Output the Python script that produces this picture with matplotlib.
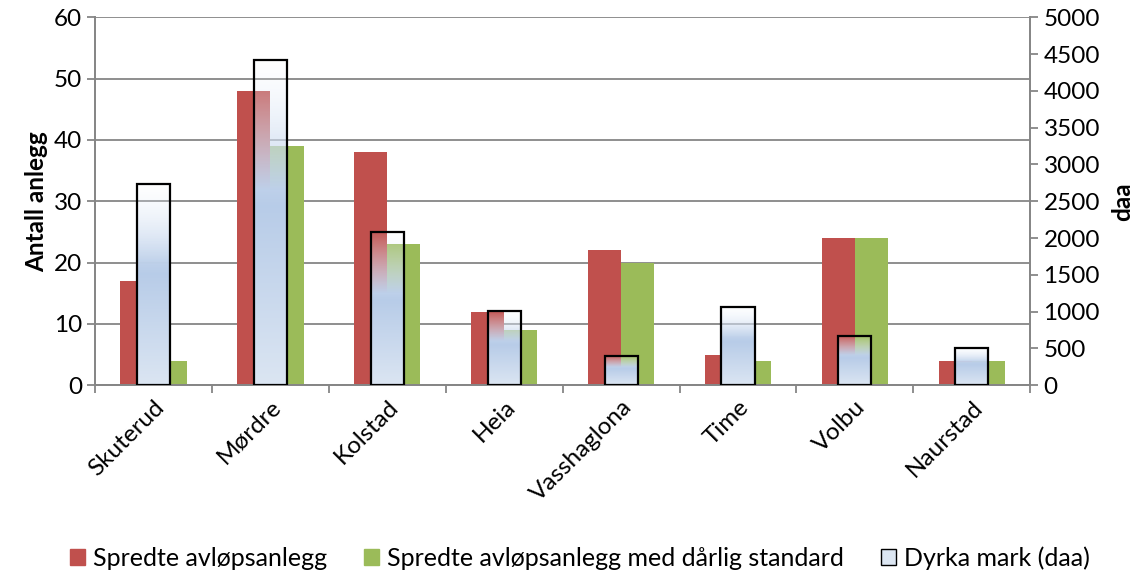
import numpy as np
import matplotlib.pyplot as plt
from matplotlib.patches import Patch

plt.rcParams['font.family'] = ['Lato', 'DejaVu Sans']

## Data
categories = ['Skuterud', 'Mørdre', 'Kolstad', 'Heia', 'Vasshaglona', 'Time', 'Volbu', 'Naurstad']
spredte = [17, 48, 38, 12, 22, 5, 24, 4]
darlig = [4, 39, 23, 9, 20, 4, 24, 4]
dyrka = [2740, 4425, 2080, 1005, 400, 1065, 667, 505]

red = '#c0504d'
green = '#9bbb59'
grid_col = '#868686'
fs = 17.5

fig = plt.figure(figsize=(11.46, 5.75), dpi=100)
ax = fig.add_axes([0.083, 0.330, 0.816, 0.640])
ax2 = ax.twinx()

x = np.arange(len(categories))
w = 0.283

ax.bar(x - w/2, spredte, w, color=red, zorder=2)
ax.bar(x + w/2, darlig, w, color=green, zorder=2)

# gradient fill for the Dyrka mark bars (see-through at top, blue in the middle)
n = 200
pos = np.linspace(0, 1, n)
rgb_top = np.array([0.94, 0.96, 0.99])
rgb_mid = np.array([0.72, 0.80, 0.91])
rgb_bot = np.array([0.86, 0.90, 0.95])
grad = np.zeros((n, 1, 4))
for i, p in enumerate(pos):
    if p < 0.45:
        c = rgb_top + (rgb_mid - rgb_top) * p / 0.45
    else:
        c = rgb_mid + (rgb_bot - rgb_mid) * (p - 0.45) / 0.55
    a = min(1.0, 0.05 + 0.95 * p / 0.4)
    grad[i, 0, :3] = c
    grad[i, 0, 3] = a

for xi, h in zip(x, dyrka):
    ax2.imshow(grad, extent=(xi - w/2, xi + w/2, 0, h), origin='upper',
               aspect='auto', interpolation='bilinear', zorder=2)
ax2.bar(x, dyrka, w, facecolor='none', edgecolor='black', linewidth=1.6, zorder=3)

ax.set_xlim(-0.5, len(categories) - 0.5)
ax2.set_xlim(-0.5, len(categories) - 0.5)
ax.set_ylim(0, 60)
ax2.set_ylim(0, 5000)
ax.set_yticks(np.arange(0, 61, 10))
ax2.set_yticks(np.arange(0, 5001, 500))

ax.yaxis.grid(True, color=grid_col, linewidth=1.3)
ax.set_axisbelow(True)

for a in (ax, ax2):
    a.spines['top'].set_visible(False)
    for s in ('left', 'right', 'bottom'):
        a.spines[s].set_color(grid_col)
        a.spines[s].set_linewidth(1.3)
ax.tick_params(axis='y', colors=grid_col, labelcolor='black', labelsize=fs, length=6, width=1.3)
ax2.tick_params(axis='y', colors=grid_col, labelcolor='black', labelsize=fs, length=6, width=1.3)

# category labels at centres, tick marks at boundaries
ax.set_xticks(x)
ax.set_xticklabels(categories, rotation=45, ha='right', rotation_mode='anchor', fontsize=fs)
ax.tick_params(axis='x', which='major', length=0, pad=8)
ax.set_xticks(np.arange(-0.5, len(categories), 1), minor=True)
ax.tick_params(axis='x', which='minor', length=6, width=1.3, color=grid_col)

ax.set_ylabel('Antall anlegg', fontsize=fs, fontweight='bold', labelpad=4)
ax2.set_ylabel('daa', fontsize=fs, fontweight='bold', labelpad=8)

handles = [Patch(facecolor=red, edgecolor=red),
           Patch(facecolor=green, edgecolor=green),
           Patch(facecolor='#dce6f2', edgecolor='black', linewidth=1)]
fig.legend(handles, ['Spredte avløpsanlegg', 'Spredte avløpsanlegg med dårlig standard', 'Dyrka mark (daa)'],
           loc='lower center', bbox_to_anchor=(0.506, -0.03), ncol=3, frameon=False, fontsize=18,
           handlelength=0.6, handleheight=0.6, handletextpad=0.3, columnspacing=1.5)

fig.savefig('out.png', dpi=100)
